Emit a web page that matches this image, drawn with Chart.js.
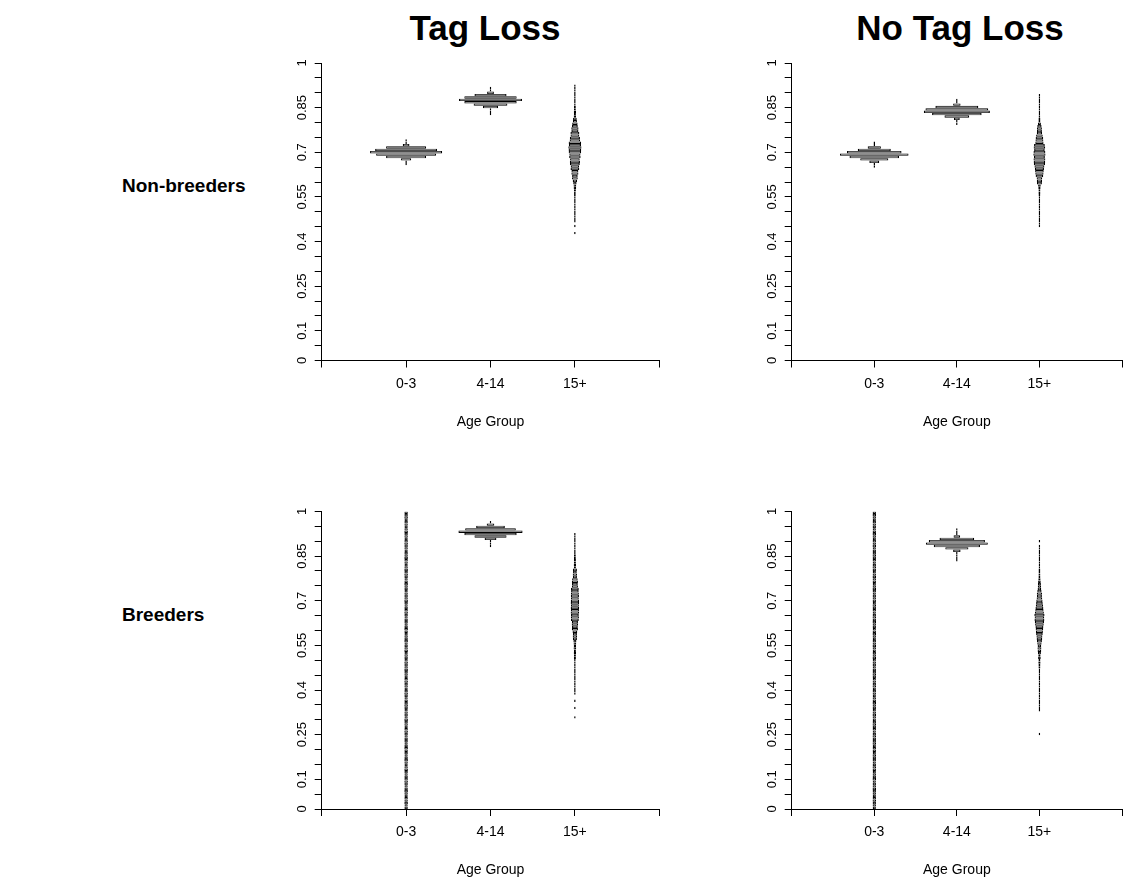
<!DOCTYPE html>
<html><head><meta charset="utf-8">
<script src="https://cdn.jsdelivr.net/npm/chart.js"></script>
<style>
html,body{margin:0;padding:0;background:#fff;}
#page{position:relative;width:1130px;height:884px;overflow:hidden;background:#fff;font-family:"Liberation Sans",Arial,sans-serif;}
canvas{position:absolute;}
.title{position:absolute;font-weight:bold;font-size:35px;color:#000;white-space:nowrap;transform:translate(-50%,-50%);}
.rowlab{position:absolute;font-weight:bold;font-size:19px;color:#000;white-space:nowrap;transform:translateY(-50%);}
</style></head>
<body><div id="page">
<div class="title" style="left:485px;top:28px">Tag Loss</div>
<div class="title" style="left:960px;top:28px">No Tag Loss</div>
<div class="rowlab" style="left:122px;top:186px">Non-breeders</div>
<div class="rowlab" style="left:122px;top:615px">Breeders</div>
<canvas id="c1" width="420" height="400" style="left:262px;top:40px"></canvas>
<canvas id="c2" width="398" height="400" style="left:732px;top:40px"></canvas>
<canvas id="c3" width="420" height="390" style="left:262px;top:490px"></canvas>
<canvas id="c4" width="398" height="390" style="left:732px;top:490px"></canvas>
</div>
<script>
// ---------- data ----------
const binWidth = 0.008;
const ageGroups = ['0-3', '4-14', '15+'];
const xTickLabels = ['', '0-3', '4-14', '15+', ''];
const yTickValues = [0,0.05,0.1,0.15,0.2,0.25,0.3,0.35,0.4,0.45,0.5,0.55,0.6,0.65,0.7,0.75,0.8,0.85,0.9,0.95,1];
const yLabelValues = [0, 0.1, 0.25, 0.4, 0.55, 0.7, 0.85, 1];
const yLabelTexts = ['0', '0.1', '0.25', '0.4', '0.55', '0.7', '0.85', '1'];
const xAxisTitle = 'Age Group';

// half-widths of each histogram bin (x-axis units), bins listed from low to high value
// Tag Loss, Non-breeders
const tagNonStart = [0.656, 0.824, 0.424];
const tagNon03 = [0.009,0.009,0.06,0.237,0.355,0.427,0.367,0.237,0.04,0.009,0.009];
const tagNon414 = [0.009,0.009,0.009,0.09,0.2,0.31,0.373,0.31,0.19,0.04,0.009,0.009];
const tagNon15 = [0.009,0,0,0.009,0,0.009,0.009,0.009,0.009,0.009,
  0.009,0.009,0.009,0.009,0.009,0.009,0.01,0.01,0.012,0.015,
  0.016,0.02,0.026,0.034,0.033,0.042,0.041,0.052,0.05,0.058,
  0.06,0.057,0.068,0.066,0.074,0.075,0.078,0.072,0.074,0.062,
  0.06,0.052,0.053,0.042,0.043,0.034,0.032,0.024,0.022,0.014,
  0.012,0.013,0.011,0.011,0.009,0.009,0.009,0.009,0.009,0.009,0.009,0.009,0.009];

// No Tag Loss, Non-breeders
const noNonStart = [0.648, 0.792, 0.448];
const noNon03 = [0.009,0.009,0.06,0.17,0.3,0.415,0.33,0.2,0.08,0.009,0.009];
const noNon414 = [0.009,0.009,0.035,0.15,0.3,0.4,0.38,0.26,0.045,0.009,0.009];
const noNon15 = [0.009,0.009,0.009,0.009,0.009,0.009,0.009,0.009,0.009,0.009,0.009,0.009,0.009,
  0.011,0.012,0.012,0.014,0.016,
  0.03,0.032,0.034,0.046,0.05,0.052,0.055,0.06,0.068,0.07,
  0.072,0.066,0.074,0.072,0.064,0.07,0.065,0.05,0.048,0.046,
  0.04,0.032,0.03,0.03,0.026,0.018,0.012,0.012,0.01,
  0.009,0.009,0.009,0.009,0.009,0.009,0.009,0.009,0.009];

// Tag Loss, Breeders
const tagBrStart = [0, 0.880, 0.304];
const tagBr03 = [
  0.020,0.019,0.021,0.020,0.020,0.019,0.020,0.021,0.020,0.019,
  0.020,0.021,0.020,0.020,0.019,0.020,0.021,0.020,0.019,0.020,
  0.021,0.020,0.019,0.020,0.020,0.021,0.020,0.019,0.020,0.020,
  0.019,0.020,0.021,0.020,0.019,0.020,0.020,0.021,0.019,0.020,
  0.020,0.019,0.020,0.021,0.020,0.020,0.019,0.020,0.021,0.020,
  0.019,0.020,0.020,0.021,0.020,0.019,0.020,0.020,0.021,0.020,
  0.020,0.021,0.019,0.020,0.020,0.019,0.021,0.020,0.020,0.019,
  0.021,0.020,0.020,0.019,0.020,0.021,0.020,0.019,0.020,0.020,
  0.019,0.020,0.021,0.020,0.020,0.019,0.020,0.021,0.020,0.020,
  0.020,0.019,0.020,0.020,0.021,0.020,0.019,0.020,0.021,0.020,
  0.021,0.020,0.019,0.020,0.020,0.021,0.020,0.020,0.019,0.020,
  0.020,0.021,0.020,0.019,0.020,0.020,0.021,0.020,0.019,0.020,
  0.020,0.019,0.021,0.020,0.020];
const tagBr414 = [0.009,0.009,0.009,0.07,0.19,0.31,0.38,0.3,0.17,0.045,0.009];
const tagBr15 = [0.009,0,0,0,0.009,0,0,0.009,0,0,
  0.009,0.009,0.009,0.009,0.009,0.009,0.009,0.009,0.009,0.009,0.009,0.009,0.009,0.009,0.009,
  0.012,0.012,0.014,0.012,0.016,0.014,0.016,0.018,
  0.024,0.026,0.024,0.028,0.036,0.034,0.038,0.036,
  0.046,0.048,0.046,0.05,0.048,0.05,0.047,0.05,0.049,0.046,0.048,0.047,0.045,0.046,
  0.036,0.034,0.036,0.033,
  0.024,0.026,0.022,0.024,
  0.012,0.014,0.012,0.012,0.011,0.011,
  0.009,0.009,0.009,0.009,0.009,0.009,0.009,0.009,0.009];

// No Tag Loss, Breeders
const noBrStart = [0, 0.832, 0.248];
const noBr03 = [
  0.019,0.020,0.020,0.021,0.020,0.019,0.020,0.020,0.021,0.020,
  0.020,0.019,0.021,0.020,0.020,0.019,0.020,0.021,0.020,0.019,
  0.020,0.020,0.021,0.019,0.020,0.020,0.019,0.021,0.020,0.020,
  0.021,0.020,0.019,0.020,0.020,0.021,0.020,0.019,0.020,0.021,
  0.020,0.019,0.020,0.020,0.021,0.020,0.020,0.019,0.020,0.020,
  0.019,0.021,0.020,0.020,0.019,0.020,0.021,0.020,0.020,0.019,
  0.020,0.020,0.019,0.021,0.020,0.020,0.019,0.020,0.021,0.020,
  0.020,0.019,0.020,0.021,0.020,0.019,0.020,0.020,0.021,0.020,
  0.021,0.020,0.019,0.020,0.020,0.021,0.019,0.020,0.020,0.020,
  0.019,0.020,0.021,0.020,0.019,0.020,0.020,0.021,0.020,0.019,
  0.020,0.021,0.020,0.019,0.020,0.020,0.021,0.020,0.020,0.019,
  0.021,0.020,0.020,0.019,0.020,0.021,0.020,0.019,0.020,0.020,
  0.020,0.019,0.020,0.021,0.020];
const noBr414 = [0.009,0.009,0.009,0.009,0.045,0.14,0.28,0.375,0.34,0.21,0.04,0.009,0.009,0.009];
const noBr15 = [0.009,0,0,0,0,0,0,0,0,0,
  0.009,0.009,0.009,0.009,0.009,0.009,0.009,0.009,0.009,0.009,0.009,0.009,0.009,0.009,0.009,0.009,0.009,0.009,
  0.012,0.012,0.014,0.012,0.016,0.014,0.018,0.022,0.024,0.022,
  0.026,0.03,0.034,0.036,0.04,0.042,0.046,0.048,0.052,0.056,
  0.06,0.058,0.062,0.054,0.05,0.048,0.044,0.04,0.038,0.034,
  0.03,0.032,0.026,0.022,0.02,0.018,0.016,0.014,0.012,0.012,
  0.011,0.011,
  0.009,0.009,0.009,0.009,0.009,0.009,0.009,0.009,0.009,0.009,
  0,0.009];

// ---------- build ----------
function r4(v){ return Math.round(v * 10000) / 10000; }
function histBars(groupIndex, start, halfWidths){
  const c = groupIndex + 1;
  const out = [];
  halfWidths.forEach((h, i) => {
    if (h > 0) out.push({ y: r4(start + (i + 0.5) * binWidth), x: [c - h, c + h] });
  });
  return out;
}

const FONT = '"Liberation Sans", Arial, sans-serif';

function makePanel(id, canvasRect, area, starts, series){
  const padL = 0;
  const yAxisW = area.L - canvasRect.x - padL;
  const xAxisH = 70;
  const padT = area.T - canvasRect.y;
  const padR = canvasRect.x + canvasRect.w - area.R;
  const padB = canvasRect.y + canvasRect.h - area.B - xAxisH;
  const datasets = series.map((arr, g) => ({
    label: ageGroups[g],
    data: histBars(g, starts[g], arr),
    backgroundColor: '#777777',
    borderColor: '#000000',
    borderWidth: {top: 0.8, bottom: 0.8, left: 1.2, right: 1.2},
    borderSkipped: false,
    inflateAmount: 0,
    grouped: false,
    barPercentage: 1,
    categoryPercentage: 1
  }));
  new Chart(document.getElementById(id), {
    type: 'bar',
    data: { datasets },
    options: {
      indexAxis: 'y',
      responsive: false,
      animation: false,
      events: [],
      layout: { padding: { left: padL, right: padR, top: padT, bottom: padB } },
      plugins: { legend: { display: false }, tooltip: { enabled: false }, title: { display: false } },
      scales: {
        x: {
          type: 'linear', min: 0, max: 4, offset: false,
          afterFit(s){ s.height = xAxisH; },
          grid: { display: true, offset: false, drawOnChartArea: false, drawTicks: true, tickLength: 7, color: '#000', lineWidth: 1 },
          border: { display: true, color: '#000', width: 1 },
          ticks: {
            stepSize: 1, autoSkip: false, maxRotation: 0, minRotation: 0, padding: 8,
            color: '#000', font: { family: FONT, size: 14 },
            callback: (v) => xTickLabels[Math.round(v)] ?? ''
          },
          title: { display: true, text: xAxisTitle, color: '#000', font: { family: FONT, size: 14 }, padding: { top: 0, bottom: 0 } }
        },
        y: {
          type: 'linear', min: 0, max: 1, offset: false,
          afterFit(s){ s.width = yAxisW; },
          afterBuildTicks(s){ s.ticks = yTickValues.map(v => ({ value: v })); },
          grid: { display: true, offset: false, drawOnChartArea: false, drawTicks: true, tickLength: 7, color: '#000', lineWidth: 1 },
          border: { display: true, color: '#000', width: 1 },
          ticks: {
            autoSkip: false, minRotation: 90, maxRotation: 90, padding: 0, crossAlign: 'center',
            color: '#000', font: { family: FONT, size: 13 },
            callback: (v) => {
              const k = yLabelValues.findIndex(t => Math.abs(t - v) < 1e-9);
              return k >= 0 ? yLabelTexts[k] : '';
            }
          }
        }
      }
    }
  });
}

makePanel('c1', {x:262, y:40, w:420, h:400}, {L:321.7, R:659.3, T:63, B:360.5}, tagNonStart, [tagNon03, tagNon414, tagNon15]);
makePanel('c2', {x:732, y:40, w:398, h:400}, {L:791.7, R:1129.3, T:63, B:360.5}, noNonStart, [noNon03, noNon414, noNon15]);
makePanel('c3', {x:262, y:490, w:420, h:390}, {L:321.7, R:659.3, T:511.5, B:809}, tagBrStart, [tagBr03, tagBr414, tagBr15]);
makePanel('c4', {x:732, y:490, w:398, h:390}, {L:791.7, R:1129.3, T:511.5, B:809}, noBrStart, [noBr03, noBr414, noBr15]);
</script>
</body></html>
